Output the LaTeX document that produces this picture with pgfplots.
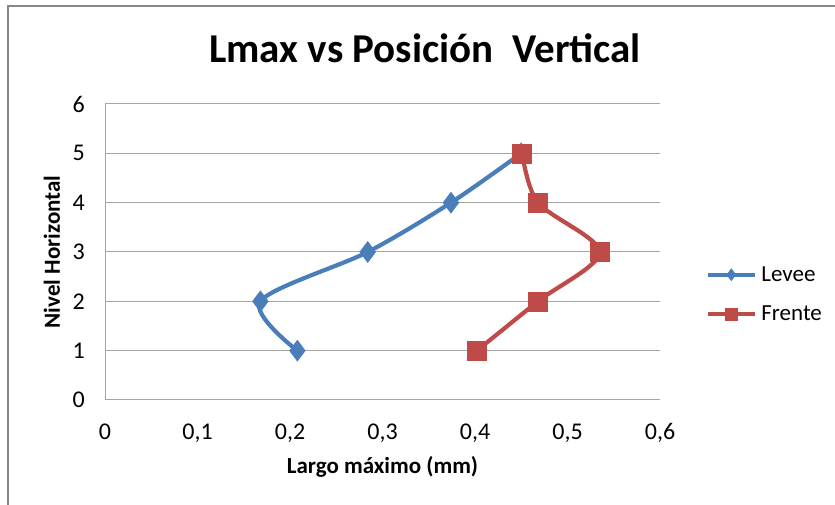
\documentclass[border=0pt]{standalone}
\usepackage{pgfplots}
\pgfplotsset{compat=1.18}
\usepackage{fontspec}
\setmainfont{Carlito}
\definecolor{levee}{HTML}{4A7EBB}
\definecolor{frente}{HTML}{BE4B48}
\definecolor{gridc}{HTML}{A6A6A6}
\definecolor{framec}{HTML}{878787}

\begin{document}
\begin{tikzpicture}[x=1pt,y=1pt]
\path[use as bounding box] (0pt,0pt) rectangle (835pt,505pt);
% chart frame
\draw[framec, line width=2pt] (7.5pt,0pt) -- (7.5pt,499pt) -- (835pt,499pt);
% chart title
\node[anchor=base, inner sep=0pt, font=\fontsize{41}{49}\selectfont\bfseries] at (425pt,442pt) {Lmax vs Posición\ \ Vertical};
\begin{axis}[
  at={(105pt,105pt)}, anchor=south west,
  scale only axis, width=555pt, height=296pt,
  xmin=0, xmax=0.6, ymin=0, ymax=6,
  xtick={0,0.1,0.2,0.3,0.4,0.5,0.6},
  ytick={0,1,2,3,4,5,6},
  axis x line*=bottom, axis y line*=left,
  axis line style={gridc, line width=1pt},
  ymajorgrids, grid style={gridc, line width=1pt},
  major tick length=0pt, tick style={draw=none},
  /pgf/number format/.cd, fixed, precision=1, use comma, assume math mode=true,
  /pgfplots/.cd,
  tick label style={font=\fontsize{24}{28}\selectfont, inner sep=0pt},
  xticklabel style={anchor=base, yshift=-40pt},
  yticklabel style={anchor=east, xshift=-20pt},
  xlabel={Largo máximo (mm)},
  ylabel={Nivel Horizontal},
  label style={font=\fontsize{23}{27}\selectfont\bfseries, inner sep=0pt},
  xlabel style={at={(axis description cs:0.5,-0.25)}, anchor=base},
  ylabel style={at={(axis description cs:-0.0811,0.5)}, anchor=base},
  legend style={at={(axis description cs:1.0829,0.357)}, anchor=west,
    draw=none, fill=none, inner sep=0pt, row sep=23pt, column sep=5pt,
    font=\fontsize{23}{27}\selectfont, nodes={inner sep=0pt}},
  legend cell align=left,
  legend image code/.code={\draw[#1, mark size=6pt, mark repeat=2, mark phase=2] plot coordinates {(0pt,0pt) (23pt,0pt) (46pt,0pt)};},
  clip=false,
]
\addplot[levee, line width=4.2pt, smooth, mark=diamond*, mark size=10.5pt,
  mark options={solid, fill=levee, line width=0.5pt}]
  coordinates {(0.208,1) (0.168,2) (0.284,3) (0.374,4) (0.450,5)};
\addlegendentry{Levee}
\addplot[frente, line width=4.2pt, smooth, mark=square*, mark size=9.5pt,
  mark options={solid, fill=frente, line width=0.5pt}]
  coordinates {(0.402,1) (0.468,2) (0.535,3) (0.468,4) (0.451,5)};
\addlegendentry{Frente}
\end{axis}
\end{tikzpicture}
\end{document}
